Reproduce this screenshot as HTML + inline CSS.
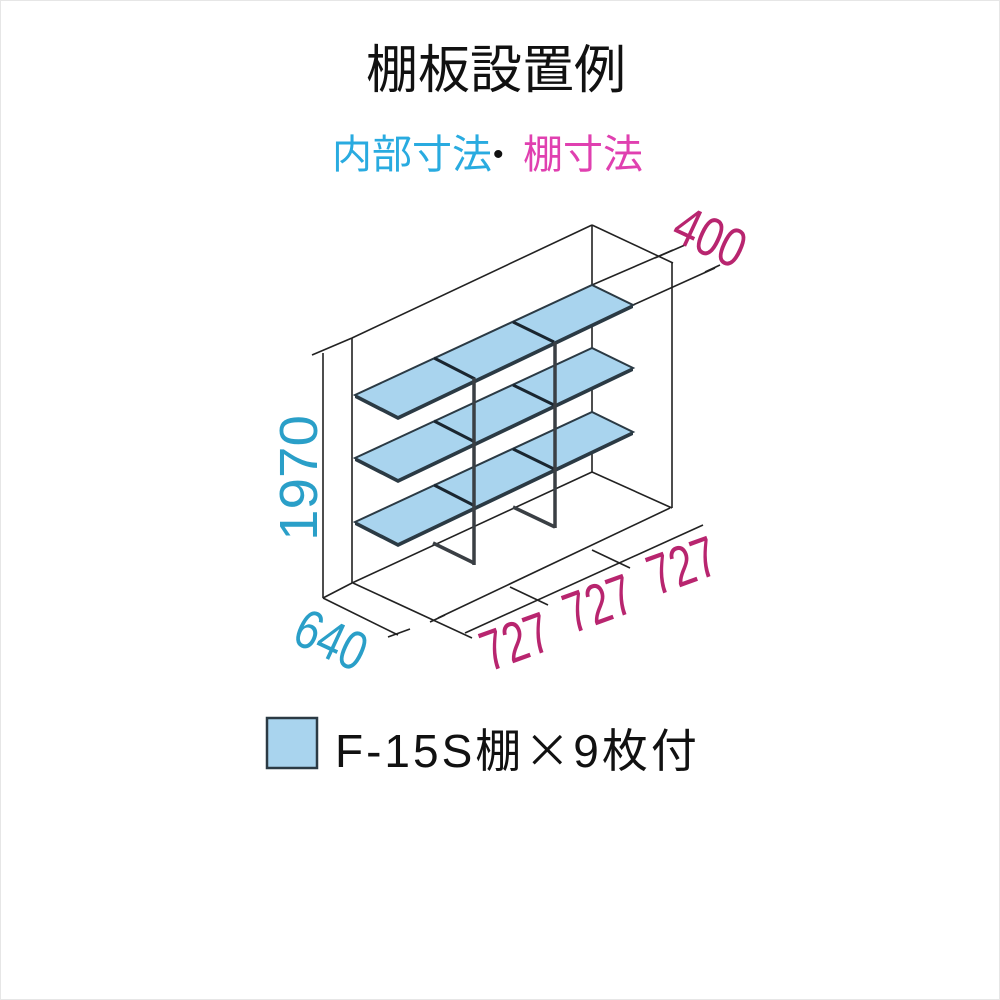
<!DOCTYPE html>
<html><head><meta charset="utf-8"><style>
html,body{margin:0;padding:0;background:#fff;}
svg{display:block;}
text{font-family:"Liberation Sans","Noto Sans CJK JP",sans-serif;}
</style></head><body>
<svg width="1000" height="1000" viewBox="0 0 1000 1000" xmlns="http://www.w3.org/2000/svg">
<rect x="0.5" y="0.5" width="999" height="999" fill="#fff" stroke="#e6e6e6"/>
<text x="496" y="88" font-size="52" text-anchor="middle" fill="#111">棚板設置例</text>
<text x="332" y="168" font-size="40" fill="#29abe0">内部寸法</text>
<text x="493" y="164" font-size="30" fill="#111">•</text>
<text x="523" y="168" font-size="40" fill="#e040b0">棚寸法</text>

<g stroke="#222" stroke-width="1.6" fill="none">
<line x1="352" y1="338" x2="592" y2="225"/>
<line x1="352" y1="338" x2="352" y2="583"/>
<line x1="592" y1="225" x2="592" y2="472"/>
<line x1="592" y1="225" x2="673" y2="263"/>
<line x1="672" y1="263" x2="672" y2="508"/>
<line x1="592" y1="472" x2="672" y2="508"/>
<line x1="352" y1="583" x2="592" y2="472"/>
<line x1="323" y1="353" x2="323" y2="598"/>
<line x1="312" y1="355" x2="352" y2="338"/>
<line x1="323" y1="598" x2="352" y2="583"/>
<line x1="323" y1="598" x2="398" y2="635"/>
<line x1="388" y1="637" x2="410" y2="629"/>
<line x1="353" y1="583" x2="472" y2="638"/>
<line x1="438" y1="618" x2="670" y2="508"/>
<line x1="465" y1="633" x2="703" y2="525"/>
<line x1="430" y1="622" x2="445" y2="615"/>
<line x1="510" y1="587" x2="548" y2="605"/>
<line x1="592" y1="550" x2="630" y2="568"/>
<line x1="592" y1="285" x2="673" y2="250"/>
<line x1="633" y1="305" x2="715" y2="268"/>
<line x1="655" y1="258" x2="685" y2="245"/>
<line x1="705" y1="272" x2="720" y2="265"/>
</g>

<g>
<g transform="translate(0,127)">
<polygon points="355,395 592,285 633,305 398,417" fill="#a9d4ee" stroke="#2b3a44" stroke-width="2"/>
<polygon points="355,395 398,417 398,420 355,398" fill="#2b3a44"/>
<polygon points="398,417 633,305 633,308 398,420" fill="#2b3a44"/>
<line x1="434" y1="358" x2="475" y2="379" stroke="#1a2630" stroke-width="3"/>
<line x1="513" y1="322" x2="554" y2="342" stroke="#1a2630" stroke-width="3"/>
</g>
<g transform="translate(0,63)">
<polygon points="355,395 592,285 633,305 398,417" fill="#a9d4ee" stroke="#2b3a44" stroke-width="2"/>
<polygon points="355,395 398,417 398,420 355,398" fill="#2b3a44"/>
<polygon points="398,417 633,305 633,308 398,420" fill="#2b3a44"/>
<line x1="434" y1="358" x2="475" y2="379" stroke="#1a2630" stroke-width="3"/>
<line x1="513" y1="322" x2="554" y2="342" stroke="#1a2630" stroke-width="3"/>
</g>
<g>
<polygon points="355,395 592,285 633,305 398,417" fill="#a9d4ee" stroke="#2b3a44" stroke-width="2"/>
<polygon points="355,395 398,417 398,420 355,398" fill="#2b3a44"/>
<polygon points="398,417 633,305 633,308 398,420" fill="#2b3a44"/>
<line x1="434" y1="358" x2="475" y2="379" stroke="#1a2630" stroke-width="3"/>
<line x1="513" y1="322" x2="554" y2="342" stroke="#1a2630" stroke-width="3"/>
</g>
</g>
<g stroke="#3a3f44" stroke-width="3.5" fill="none">
<line x1="474" y1="378" x2="474" y2="565"/>
<line x1="555" y1="342" x2="555" y2="528"/>
<line x1="433" y1="543" x2="474" y2="563"/>
<line x1="513" y1="507" x2="555" y2="527"/>
</g>

<text transform="translate(317,478) rotate(-90) scale(1.05,1)" font-size="54" text-anchor="middle" fill="#2a9fc8">1970</text>
<text transform="translate(323,657) rotate(25) scale(0.95,1.2)" font-size="46" text-anchor="middle" fill="#2a9fc8">640</text>
<text transform="translate(702,254) rotate(25) scale(0.95,1.2)" font-size="46" text-anchor="middle" fill="#b8256f">400</text>
<text transform="translate(522,660) rotate(-20) scale(0.95,1.3)" font-size="44" text-anchor="middle" fill="#b8256f">727</text>
<text transform="translate(605,622) rotate(-20) scale(0.95,1.3)" font-size="44" text-anchor="middle" fill="#b8256f">727</text>
<text transform="translate(689,584) rotate(-20) scale(0.95,1.3)" font-size="44" text-anchor="middle" fill="#b8256f">727</text>

<rect x="267" y="718" width="50" height="50" fill="#a9d4ee" stroke="#2b3a44" stroke-width="2.5"/>
<text x="335" y="767" font-size="46" fill="#111" letter-spacing="3">F-15S棚<tspan font-family="Noto Sans CJK JP, sans-serif">×</tspan>9枚付</text>
</svg>
</body></html>
